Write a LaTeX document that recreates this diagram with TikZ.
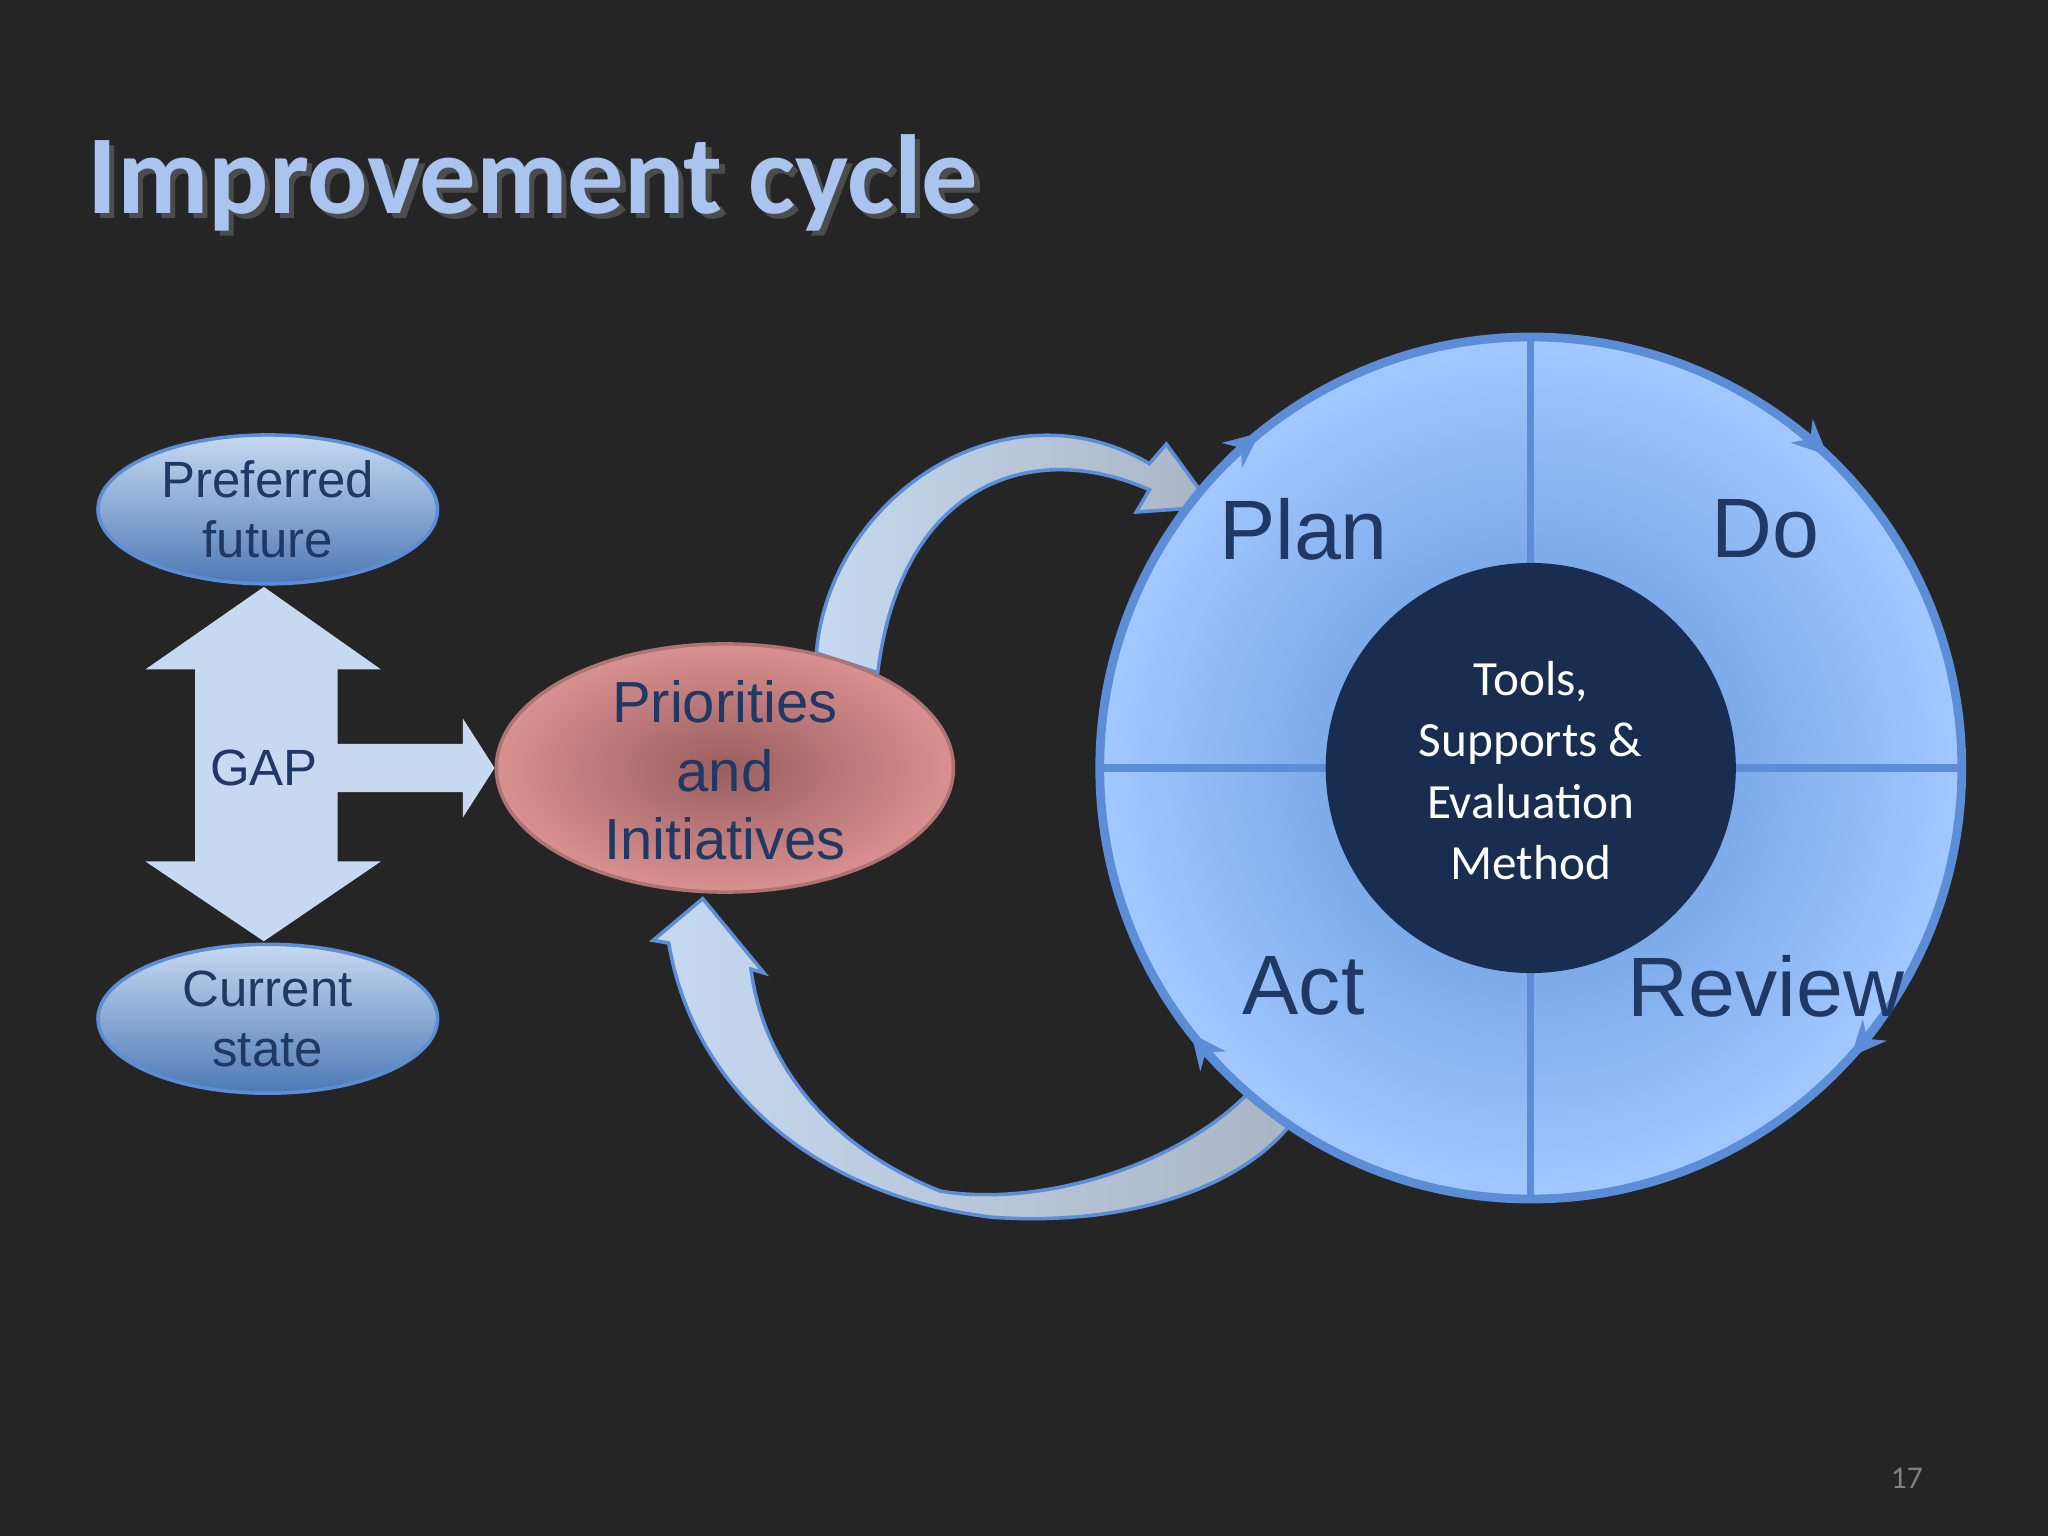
\documentclass[tikz,border=0pt]{standalone}
\usepackage{fontspec}
\setmainfont{Liberation Sans}
\newfontfamily\calfont{Carlito}
\usetikzlibrary{arrows.meta,shadows}
\definecolor{bg}{HTML}{252525}
\definecolor{navy}{HTML}{1F3864}
\definecolor{lb}{HTML}{C6D9F1}
\definecolor{edge}{HTML}{5B8ED6}
\definecolor{ttl}{HTML}{A9C4EE}
\definecolor{pinkout}{HTML}{D99090}
\definecolor{pinkin}{HTML}{9A5E5E}
\begin{document}
\begin{tikzpicture}[x=0.01306cm,y=-0.01306cm,
  lab/.style={text=navy,font=\fontsize{14.5}{17}\selectfont,align=center},
  big/.style={text=navy,font=\fontsize{24}{28}\selectfont},
  band/.style={draw=edge,line width=1pt,left color=lb,right color=lb!60!gray}]
\fill[bg] (0,0) rectangle (1568,1176);
\useasboundingbox (0,0) rectangle (1568,1176);
\node (t2) at (412,144) {\calfont\bfseries\fontsize{32}{36}\selectfont\textcolor{black!70}{Improvement cycle}};
\node (t) at (408,140) {\calfont\bfseries\fontsize{32}{36}\selectfont\textcolor{ttl}{Improvement cycle}};
% GAP arrow
\filldraw[fill=lb,draw=lb] (202,450) -- (290,512) -- (258,512) -- (258,570) -- (355,570) -- (355,552) -- (378,588) -- (355,624) -- (355,606) -- (258,606) -- (258,660) -- (290,660) -- (202,720) -- (113,660) -- (150,660) -- (150,512) -- (113,512) -- cycle;
\node[text=navy,font=\fontsize{14.5}{17}\selectfont] (gap) at (202,588) {GAP};
% ellipses
\shade[top color=lb,bottom color=edge!85!black,draw=edge,line width=1pt] (205,390) ellipse [x radius=130,y radius=57];
\node[lab] (pf) at (205,390) {Preferred\\future};
\shade[top color=lb,bottom color=edge!85!black,draw=edge,line width=1pt] (205,780) ellipse [x radius=130,y radius=57];
\node[lab] (cs) at (205,780) {Current\\state};
% curved arrows
\path[band] (625,500) .. controls (635,380) and (770,290) .. (880,355) -- (893,340) -- (928,388) -- (870,392) -- (880,375) .. controls (790,335) and (690,370) .. (672,515) -- cycle;
\path[band] (512,722) -- (500,720) -- (538,688) -- (585,745) -- (575,742) .. controls (585,820) and (640,880) .. (720,912) .. controls (800,925) and (910,890) .. (962,830) -- (990,858) .. controls (960,900) and (880,940) .. (760,932) .. controls (620,915) and (530,830) .. (512,722) -- cycle;
% priorities
\shade[inner color=pinkin,outer color=pinkout,draw=pinkout!80!black,line width=1pt] (555,588) ellipse [x radius=175,y radius=95];
\node[text=navy,font=\fontsize{16.5}{19.5}\selectfont,align=center] (pr) at (555,590) {Priorities\\and\\Initiatives};
% cycle
\shade[inner color=edge,outer color=blue!25!white!85!cyan] (1172,588) circle [radius=330];
\draw[edge,line width=2.5pt] (1172,588) circle [radius=330];
\draw[edge,line width=2pt] (842,588) -- (1502,588) (1172,258) -- (1172,918);
\fill[navy!80!black] (1172,588) circle [radius=157];
\node[text=white,font=\calfont\fontsize{14}{17.5}\selectfont,align=center] (tools) at (1172,590) {Tools,\\Supports \&\\Evaluation\\Method};
\node[big] (plan) at (998,405) {Plan};
\node[big] (do) at (1352,405) {Do};
\node[big] (act) at (998,755) {Act};
\node[big] (rev) at (1352,755) {Review};
\foreach \a in {129,46.5,-42,218}{
 \draw[edge,line width=2.5pt,-{Stealth[length=10pt,width=9pt]}] ({1172+330*cos(\a+6)},{588-330*sin(\a+6)}) arc[start angle={-(\a+6)},end angle={-\a},radius=330];}
\node[text=gray,font=\calfont\fontsize{9}{10}\selectfont] (pg) at (1460,1132) {17};
\end{tikzpicture}
\end{document}
